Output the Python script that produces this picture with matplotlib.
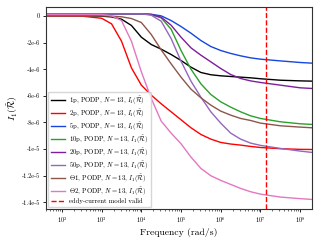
import numpy as np
import matplotlib
matplotlib.use('Agg')
import matplotlib.pyplot as plt

plt.rcParams['font.family'] = ['cmr10', 'DejaVu Serif']
plt.rcParams['mathtext.fontset'] = 'cm'
plt.rcParams['axes.unicode_minus'] = False

# log10 of frequency (rad/s) at which the curves were read
log_omega = [1.6, 2.0, 2.5, 3.0, 3.25, 3.5, 3.75, 4.0, 4.25, 4.5, 4.75, 5.0, 5.25, 5.5,
             5.75, 6.0, 6.25, 6.5, 6.75, 7.0, 7.5, 8.0, 8.3]

# I_1 values, in units of 1e-6
i1_1p = [0.0, 0.0, 0.0, -0.02, -0.08, -0.25, -0.72, -1.6, -2.15, -2.5, -2.9, -3.35, -3.85, -4.25,
         -4.42, -4.5, -4.55, -4.6, -4.65, -4.72, -4.83, -4.88, -4.9]
i1_2p = [0.0, 0.0, -0.02, -0.18, -0.6, -1.9, -3.9, -5.2, -5.95, -6.6, -7.2, -7.8, -8.4, -8.9,
         -9.25, -9.5, -9.62, -9.7, -9.8, -9.88, -9.97, -10.02, -10.03]
i1_5p = [0.15, 0.15, 0.15, 0.15, 0.15, 0.15, 0.15, 0.15, 0.12, 0.0, -0.35, -0.8, -1.3, -1.85,
         -2.3, -2.6, -2.82, -3.0, -3.15, -3.25, -3.38, -3.5, -3.55]
i1_10p = [0.15, 0.15, 0.15, 0.15, 0.15, 0.15, 0.15, 0.15, 0.1, -0.15, -1.0, -2.6, -4.0, -5.1,
          -5.9, -6.45, -6.85, -7.2, -7.5, -7.7, -7.95, -8.1, -8.15]
i1_20p = [0.15, 0.15, 0.15, 0.15, 0.15, 0.15, 0.15, 0.15, 0.1, -0.1, -0.7, -1.6, -2.4, -2.95,
          -3.45, -3.95, -4.4, -4.7, -4.88, -5.0, -5.2, -5.4, -5.45]
i1_50p = [0.15, 0.15, 0.15, 0.15, 0.15, 0.15, 0.15, 0.15, 0.05, -0.4, -1.7, -3.4, -4.9, -6.1,
          -7.2, -8.05, -8.8, -9.25, -9.55, -9.72, -9.95, -10.15, -10.25]
i1_1pound = [0.0, 0.0, 0.0, 0.0, -0.02, -0.07, -0.2, -0.5, -1.4, -2.55, -3.6, -4.6, -5.5, -6.15,
             -6.7, -7.15, -7.45, -7.7, -7.85, -8.05, -8.25, -8.35, -8.4]
i1_2pound = [0.1, 0.1, 0.1, 0.1, 0.0, -0.35, -1.9, -4.2, -6.2, -7.9, -8.8, -9.6, -10.6, -11.45,
             -12.0, -12.35, -12.65, -12.95, -13.2, -13.38, -13.6, -13.72, -13.78]

coins = ['1p', '2p', '5p', '10p', '20p', '50p', '£1', '£2']
colours = ['k', 'r', '#1646e0', '#2ca02c', '#7e1e9c', '#9467bd', '#8c564b', '#e377c2']
eddy_limit = 1.35e7

ytick_vals = [0, -2e-6, -4e-6, -6e-6, -8e-6, -1e-5, -1.2e-5, -1.4e-5]
ytick_labels = ['0', '-2e-6', '-4e-6', '-6e-6', '-8e-6', '-1e-5', '-1.2e-5', '-1.4e-5']

omega = 10.0 ** np.array(log_omega)
series = [i1_1p, i1_2p, i1_5p, i1_10p, i1_20p, i1_50p, i1_1pound, i1_2pound]

fig = plt.figure(figsize=(3.2, 2.4), dpi=100)
ax = fig.add_axes([0.144, 0.129, 0.831, 0.841])

for name, c, vals in zip(coins, colours, series):
    ax.semilogx(omega, np.array(vals) * 1e-6, color=c, lw=1.0,
                label=name + r', PODP, $N=13$, $I_1(\tilde{\mathcal{R}})$')
ax.axvline(eddy_limit, color='r', ls='--', lw=1.0, label='eddy-current model valid')

ax.set_xlim(omega[0], omega[-1])
ax.set_ylim(-1.45e-5, 0.65e-6)
ax.set_yticks(ytick_vals)
ax.set_yticklabels(ytick_labels)
ax.tick_params(labelsize=4.5, width=0.6, length=2.5, pad=2)
ax.tick_params(which='minor', width=0.4, length=1.5)
for s in ax.spines.values():
    s.set_linewidth(0.8)
    s.set_color('#333333')

ax.set_xlabel('Frequency (rad/s)', fontsize=7, labelpad=2)
ax.set_ylabel(r'$I_1(\tilde{\mathcal{R}})$', fontsize=7, labelpad=1)

ax.legend(loc='lower left', fontsize=4.8, handlelength=2.1, borderpad=0.45,
          labelspacing=0.12, handletextpad=0.6, borderaxespad=0.25, framealpha=0.8)

fig.savefig('out.png', dpi=100)
